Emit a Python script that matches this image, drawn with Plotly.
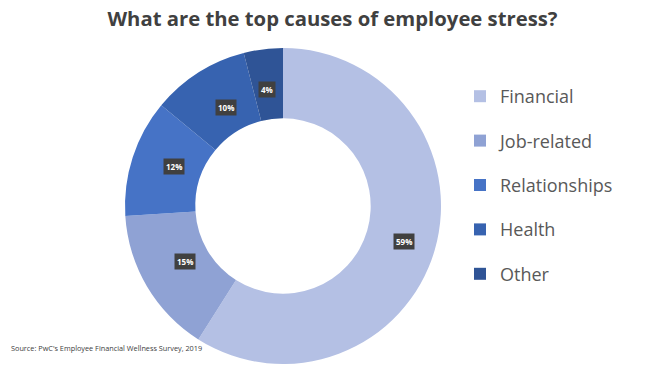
import math
import plotly.graph_objects as go

categories = ["Financial", "Job-related", "Relationships", "Health", "Other"]
values = [59, 15, 12, 10, 4]
colors = ["#b4c0e4", "#8fa2d4", "#4673c6", "#3763b0", "#2f5496"]

W, H = 665, 374
cx_px, cy_px = 283, 206
r_out = 158
hole = 0.555

fig = go.Figure()
fig.add_trace(go.Pie(
    labels=categories, values=values, hole=hole, sort=False,
    direction="clockwise", rotation=0,
    marker=dict(colors=colors, line=dict(width=0)),
    textinfo="none", showlegend=False, hoverinfo="label+percent",
    domain=dict(x=[(cx_px - r_out) / W, (cx_px + r_out) / W],
                y=[1 - (cy_px + r_out) / H, 1 - (cy_px - r_out) / H]),
))

# legend via dummy traces for spacing control
for c, col in zip(categories, colors):
    fig.add_trace(go.Scatter(x=[None], y=[None], mode="markers", name=c,
                             legendgroup=c,
                             marker=dict(symbol="square", size=11, color=col)))

# percentage labels in dark boxes, positioned from data
total = sum(values)
r_mid = r_out * 0.8
cum = 0
for v in values:
    mid = (cum + v / 2) / total * 2 * math.pi
    cum += v
    x = (cx_px + r_mid * math.sin(mid)) / W
    y = 1 - (cy_px - r_mid * math.cos(mid)) / H
    fig.add_annotation(x=x, y=y, xref="paper", yref="paper",
                       text=f"<b>{round(v / total * 100)}%</b>", showarrow=False,
                       font=dict(family="Open Sans", size=8, color="white"),
                       bgcolor="#404040", borderpad=2)

fig.add_annotation(x=9 / W, y=1 - 348 / H, xref="paper", yref="paper",
                   xanchor="left", yanchor="middle", showarrow=False,
                   text="Source: PwC's Employee Financial Wellness Survey, 2019",
                   font=dict(family="Open Sans", size=7.3, color="#404040"))

fig.update_layout(
    width=W, height=H, margin=dict(l=0, r=0, t=0, b=0),
    paper_bgcolor="white", plot_bgcolor="white",
    title=dict(text="<b>What are the top causes of employee stress?</b>",
               x=0.5, xanchor="center", y=1 - 19 / H, yanchor="middle",
               font=dict(family="Open Sans", size=20.3, color="#404040")),
    xaxis=dict(visible=False), yaxis=dict(visible=False),
    legend=dict(x=460 / W, y=1 - 78 / H, xanchor="left", yanchor="top",
                font=dict(family="Open Sans", size=18, color="#595959"),
                tracegroupgap=18, itemsizing="constant",
                bgcolor="rgba(0,0,0,0)"),
)

fig.write_html("out.html", config={"displayModeBar": False},
               post_script="document.body.style.margin='0';")
